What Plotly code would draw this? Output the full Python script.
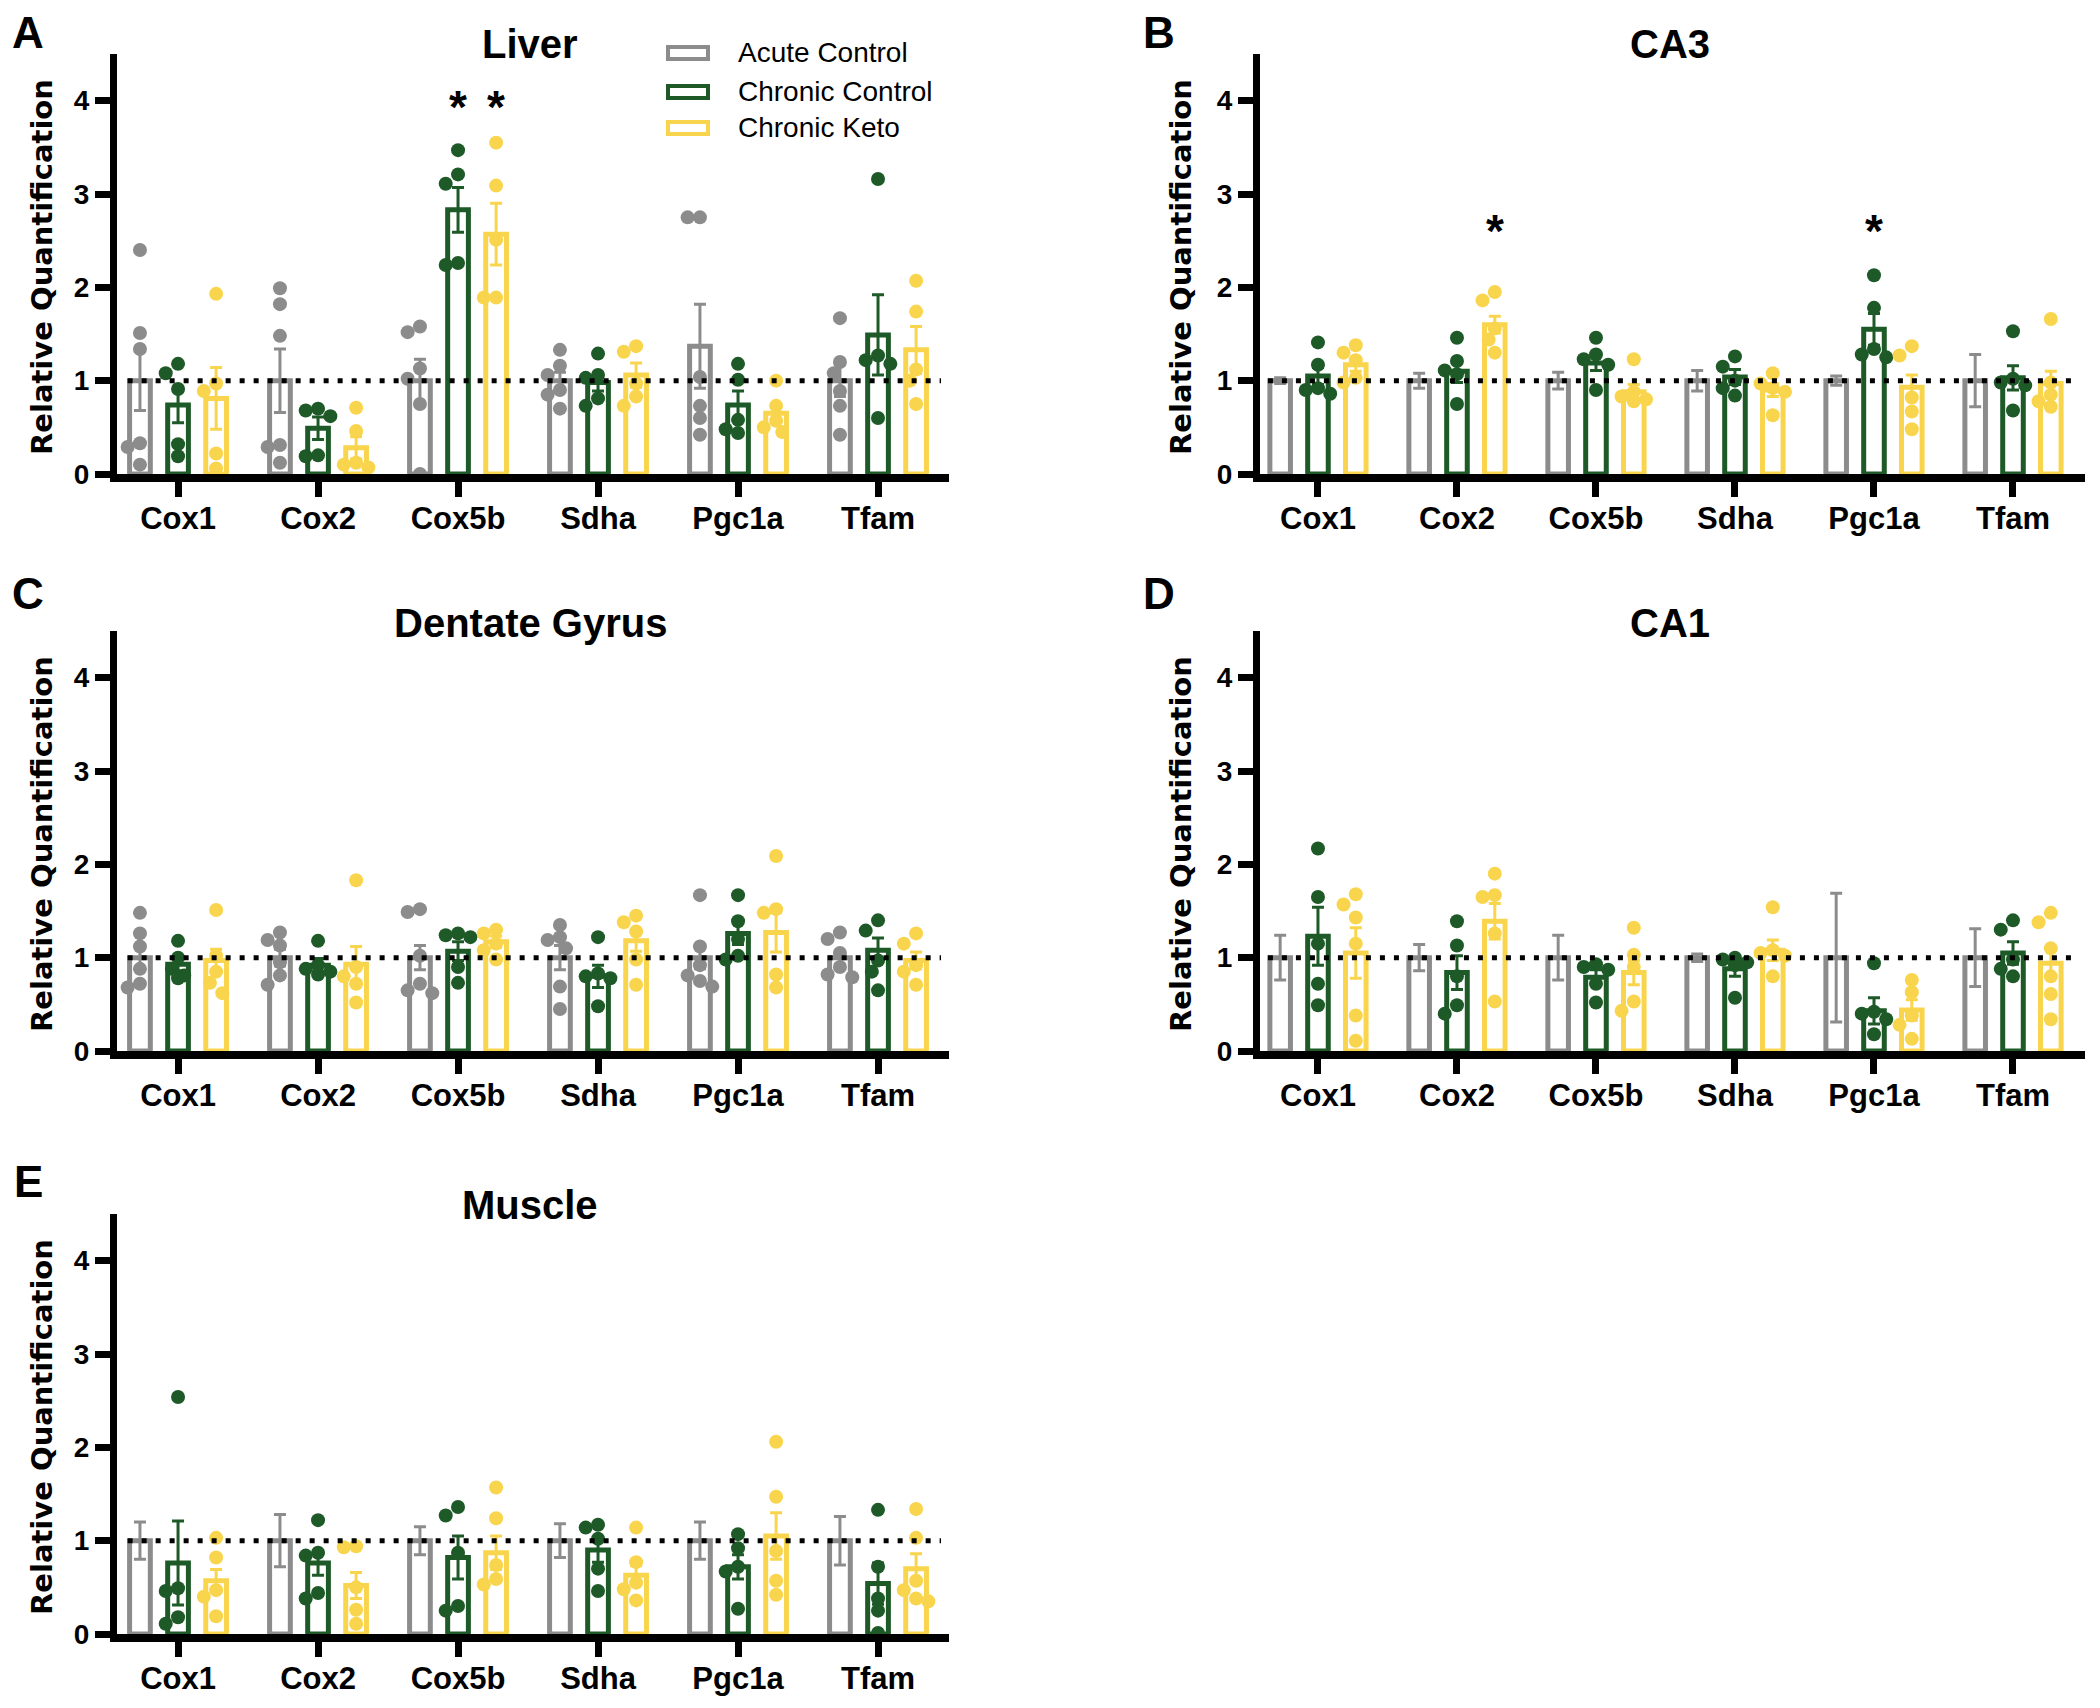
import plotly.graph_objects as go

W, H = 2100, 1708

genes = ["Cox1", "Cox2", "Cox5b", "Sdha", "Pgc1a", "Tfam"]
groups = ["Acute Control", "Chronic Control", "Chronic Keto"]
colors = ["#8c8c8c", "#1e5a28", "#f9d54e"]

# ---------------- A: Liver ----------------
liver_acute_mean = [1.00, 1.00, 1.00, 1.00, 1.37, 1.00]
liver_acute_sem = [0.32, 0.34, 0.23, 0.09, 0.45, 0.17]
liver_acute_pts = [[2.40, 1.51, 1.34, 0.33, 0.29, 0.10], [1.99, 1.82, 1.48, 0.31, 0.29, 0.12],
                   [1.58, 1.52, 1.13, 1.02, 0.75, 0.00], [1.33, 1.16, 1.06, 0.90, 0.85, 0.70],
                   [2.75, 2.75, 1.04, 0.73, 0.60, 0.42], [1.67, 1.20, 1.08, 0.89, 0.73, 0.42]]
liver_chronic_mean = [0.74, 0.49, 2.83, 0.98, 0.74, 1.49]
liver_chronic_sem = [0.19, 0.12, 0.24, 0.09, 0.15, 0.43]
liver_chronic_pts = [[1.18, 1.08, 0.91, 0.32, 0.19], [0.70, 0.68, 0.62, 0.20, 0.19],
                     [3.47, 3.21, 3.11, 2.26, 2.24], [1.29, 1.06, 1.03, 0.81, 0.73],
                     [1.18, 1.01, 0.58, 0.48, 0.44], [3.16, 1.27, 1.22, 1.18, 0.60]]
liver_keto_mean = [0.81, 0.28, 2.57, 1.06, 0.65, 1.33]
liver_keto_sem = [0.33, 0.12, 0.33, 0.13, 0.10, 0.25]
liver_keto_pts = [[1.93, 0.97, 0.89, 0.22, 0.06], [0.71, 0.46, 0.12, 0.10, 0.07],
                  [3.55, 3.09, 2.51, 1.89, 1.89], [1.37, 1.31, 0.97, 0.83, 0.73],
                  [1.00, 0.73, 0.57, 0.50, 0.45], [2.07, 1.74, 1.12, 1.00, 0.75]]
liver_stars = [(2, 1, 4.03), (2, 2, 4.03)]  # (gene index, group index, height)

# ---------------- B: CA3 ----------------
ca3_acute_mean = [1.00, 1.00, 1.00, 1.00, 1.00, 1.00]
ca3_acute_sem = [0.03, 0.08, 0.09, 0.11, 0.05, 0.28]
ca3_acute_pts = [[], [], [], [], [], []]
ca3_chronic_mean = [1.05, 1.10, 1.19, 1.04, 1.55, 1.03]
ca3_chronic_sem = [0.09, 0.12, 0.08, 0.08, 0.17, 0.13]
ca3_chronic_pts = [[1.41, 1.17, 0.92, 0.90, 0.86], [1.46, 1.21, 1.11, 1.07, 0.75],
                   [1.46, 1.28, 1.23, 1.17, 0.90], [1.26, 1.15, 1.00, 0.92, 0.84],
                   [2.13, 1.78, 1.34, 1.28, 1.25], [1.53, 1.02, 0.98, 0.95, 0.68]]
ca3_keto_mean = [1.17, 1.60, 0.88, 0.90, 0.93, 0.97]
ca3_keto_sem = [0.07, 0.09, 0.08, 0.07, 0.13, 0.13]
ca3_keto_pts = [[1.38, 1.30, 1.22, 1.03, 0.98], [1.95, 1.86, 1.56, 1.44, 1.30],
                [1.23, 0.88, 0.83, 0.80, 0.78], [1.08, 0.97, 0.92, 0.88, 0.63],
                [1.37, 1.27, 0.82, 0.67, 0.48], [1.66, 0.98, 0.85, 0.78, 0.72]]
ca3_stars = [(1, 2, 2.70), (4, 1, 2.70)]

# ---------------- C: Dentate Gyrus ----------------
dg_acute_mean = [1.00, 1.00, 1.00, 1.00, 1.00, 1.00]
dg_acute_sem = [0.13, 0.09, 0.13, 0.13, 0.12, 0.07]
dg_acute_pts = [[1.48, 1.26, 1.12, 0.88, 0.72, 0.68], [1.27, 1.19, 1.13, 0.95, 0.81, 0.71],
                [1.52, 1.49, 1.02, 0.72, 0.65, 0.62], [1.35, 1.22, 1.19, 1.10, 0.69, 0.45],
                [1.67, 1.12, 0.92, 0.81, 0.75, 0.69], [1.27, 1.20, 1.05, 0.90, 0.82, 0.79]]
dg_chronic_mean = [0.93, 0.92, 1.07, 0.80, 1.26, 1.08]
dg_chronic_sem = [0.07, 0.07, 0.10, 0.12, 0.12, 0.13]
dg_chronic_pts = [[1.18, 1.00, 0.88, 0.81, 0.78], [1.18, 0.92, 0.88, 0.85, 0.82],
                  [1.26, 1.24, 1.22, 0.90, 0.73], [1.22, 0.83, 0.80, 0.78, 0.48],
                  [1.67, 1.39, 1.20, 1.02, 0.98], [1.40, 1.29, 0.97, 0.85, 0.65]]
dg_keto_mean = [0.97, 0.93, 1.17, 1.18, 1.27, 0.97]
dg_keto_sem = [0.12, 0.19, 0.06, 0.11, 0.21, 0.09]
dg_keto_pts = [[1.51, 1.02, 0.85, 0.73, 0.62], [1.83, 0.90, 0.80, 0.72, 0.52],
               [1.30, 1.26, 1.15, 1.08, 0.98], [1.45, 1.38, 1.28, 0.98, 0.71],
               [2.09, 1.52, 1.48, 0.82, 0.68], [1.26, 1.15, 0.92, 0.85, 0.71]]
dg_stars = []

# ---------------- D: CA1 ----------------
ca1_acute_mean = [1.00, 1.00, 1.00, 1.00, 1.00, 1.00]
ca1_acute_sem = [0.24, 0.14, 0.24, 0.04, 0.69, 0.31]
ca1_acute_pts = [[], [], [], [], [], []]
ca1_chronic_mean = [1.23, 0.84, 0.79, 0.88, 0.43, 1.05]
ca1_chronic_sem = [0.31, 0.18, 0.08, 0.08, 0.14, 0.12]
ca1_chronic_pts = [[2.17, 1.65, 1.15, 0.72, 0.49], [1.39, 1.13, 0.80, 0.49, 0.40],
                   [0.93, 0.90, 0.87, 0.72, 0.52], [1.00, 0.98, 0.95, 0.92, 0.57],
                   [0.94, 0.42, 0.40, 0.34, 0.18], [1.40, 1.30, 0.98, 0.88, 0.80]]
ca1_keto_mean = [1.05, 1.39, 0.84, 1.08, 0.44, 0.94]
ca1_keto_sem = [0.27, 0.19, 0.13, 0.11, 0.11, 0.16]
ca1_keto_pts = [[1.68, 1.57, 1.43, 1.15, 0.38, 0.11], [1.90, 1.67, 1.65, 1.26, 0.53],
                [1.32, 1.03, 0.90, 0.53, 0.43], [1.54, 1.08, 1.05, 1.02, 0.80],
                [0.76, 0.63, 0.38, 0.28, 0.13], [1.48, 1.38, 1.10, 0.80, 0.61, 0.34]]
ca1_stars = []

# ---------------- E: Muscle ----------------
mus_acute_mean = [1.00, 1.00, 1.00, 1.00, 1.00, 1.00]
mus_acute_sem = [0.20, 0.28, 0.15, 0.18, 0.20, 0.26]
mus_acute_pts = [[], [], [], [], [], []]
mus_chronic_mean = [0.76, 0.76, 0.82, 0.90, 0.72, 0.54]
mus_chronic_sem = [0.45, 0.13, 0.23, 0.13, 0.13, 0.22]
mus_chronic_pts = [[2.54, 0.49, 0.46, 0.18, 0.11], [1.22, 0.87, 0.84, 0.44, 0.38],
                   [1.36, 1.27, 0.87, 0.30, 0.25], [1.17, 1.14, 1.02, 0.70, 0.46],
                   [1.07, 0.92, 0.72, 0.67, 0.27], [1.33, 0.72, 0.38, 0.25, 0.01]]
mus_keto_mean = [0.57, 0.52, 0.87, 0.63, 1.05, 0.70]
mus_keto_sem = [0.12, 0.14, 0.18, 0.10, 0.25, 0.16]
mus_keto_pts = [[1.03, 0.82, 0.47, 0.40, 0.19], [0.94, 0.93, 0.50, 0.26, 0.11],
                [1.57, 1.24, 0.74, 0.59, 0.53], [1.14, 0.77, 0.55, 0.48, 0.36],
                [2.06, 1.47, 0.89, 0.57, 0.42], [1.34, 1.03, 0.57, 0.47, 0.38, 0.35]]
mus_stars = []

# ---------------- layout helpers ----------------
SANS = "Liberation Sans, Arial, sans-serif"
WIDE = "DejaVu Sans, Verdana, sans-serif"
OFFSETS = [-0.272, 0.0, 0.272]
BAR_W = 0.148
PX_PER_X = 140.0
PX_PER_Y = 93.0


def pxx(p):
    return p / W


def pxy(p):
    return 1 - p / H


# column: (left px, right px, x-range, letter x, y-title x)
cols = [(117, 949, [-0.436, 5.507], 28, 42), (1260, 2085, [-0.417, 5.518], 1159, 1181)]
# row: (top px, bottom px, title y, letter y)
rows = [(54, 474, 44, 32), (631, 1051, 623, 593), (1214, 1634, 1205, 1181)]

panels = [
    dict(title="Liver", letter="A", col=0, row=0,
         data=[(liver_acute_mean, liver_acute_sem, liver_acute_pts),
               (liver_chronic_mean, liver_chronic_sem, liver_chronic_pts),
               (liver_keto_mean, liver_keto_sem, liver_keto_pts)], stars=liver_stars),
    dict(title="CA3", letter="B", col=1, row=0,
         data=[(ca3_acute_mean, ca3_acute_sem, ca3_acute_pts),
               (ca3_chronic_mean, ca3_chronic_sem, ca3_chronic_pts),
               (ca3_keto_mean, ca3_keto_sem, ca3_keto_pts)], stars=ca3_stars),
    dict(title="Dentate Gyrus", letter="C", col=0, row=1,
         data=[(dg_acute_mean, dg_acute_sem, dg_acute_pts),
               (dg_chronic_mean, dg_chronic_sem, dg_chronic_pts),
               (dg_keto_mean, dg_keto_sem, dg_keto_pts)], stars=dg_stars),
    dict(title="CA1", letter="D", col=1, row=1,
         data=[(ca1_acute_mean, ca1_acute_sem, ca1_acute_pts),
               (ca1_chronic_mean, ca1_chronic_sem, ca1_chronic_pts),
               (ca1_keto_mean, ca1_keto_sem, ca1_keto_pts)], stars=ca1_stars),
    dict(title="Muscle", letter="E", col=0, row=2,
         data=[(mus_acute_mean, mus_acute_sem, mus_acute_pts),
               (mus_chronic_mean, mus_chronic_sem, mus_chronic_pts),
               (mus_keto_mean, mus_keto_sem, mus_keto_pts)], stars=mus_stars),
]


def swarm(vals, step=0.044, diam=12.0):
    """Horizontal spread so overlapping dots sit side by side (layout only)."""
    offs = [0.0] * len(vals)
    placed = []
    for i in sorted(range(len(vals)), key=lambda j: -vals[j]):
        chosen = None
        for k in (0, -1, 1, -2, 2):
            dx = k * step
            if all(((dx - a) * PX_PER_X) ** 2 + ((vals[i] - b) * PX_PER_Y) ** 2 >= diam ** 2
                   for a, b in placed):
                chosen = dx
                break
        if chosen is None:
            chosen = 0.0
        placed.append((chosen, vals[i]))
        offs[i] = chosen
    return offs


fig = go.Figure()
layout = dict(
    width=W, height=H, margin=dict(l=0, r=0, t=0, b=0, autoexpand=False),
    paper_bgcolor="white", plot_bgcolor="rgba(0,0,0,0)",
    barmode="overlay", showlegend=False,
    font=dict(family=SANS, color="black"),
)
annotations = []
shapes = []

for k, p in enumerate(panels, start=1):
    xa = "x" if k == 1 else f"x{k}"
    ya = "y" if k == 1 else f"y{k}"
    left, right, xr, letter_x, ytitle_x = cols[p["col"]]
    top, bottom, title_y, letter_y = rows[p["row"]]

    layout["xaxis" if k == 1 else f"xaxis{k}"] = dict(
        domain=[pxx(left), pxx(right)], anchor=ya, range=xr, automargin=False,
        tickmode="array", tickvals=list(range(len(genes))), ticktext=genes,
        showline=True, linecolor="black", linewidth=8,
        ticks="outside", ticklen=15, tickwidth=7, tickcolor="black",
        ticklabelstandoff=-5,
        tickfont=dict(family=SANS, size=31, weight="bold", color="black"),
        showgrid=False, zeroline=False, fixedrange=True,
    )
    layout["yaxis" if k == 1 else f"yaxis{k}"] = dict(
        domain=[pxy(bottom), pxy(top)], anchor=xa, range=[0, 4.5], automargin=False,
        tickmode="array", tickvals=[0, 1, 2, 3, 4],
        showline=True, linecolor="black", linewidth=7,
        ticks="outside", ticklen=15, tickwidth=7, tickcolor="black",
        tickfont=dict(family=SANS, size=28, weight="bold", color="black"),
        showgrid=False, zeroline=False, fixedrange=True,
    )

    # bars with SEM error bars
    for g, (mean, sem, pts) in enumerate(p["data"]):
        fig.add_trace(go.Bar(
            x=[i + OFFSETS[g] for i in range(len(genes))], y=mean, width=BAR_W,
            marker=dict(color="white", line=dict(color=colors[g], width=5)),
            error_y=dict(type="data", array=sem, symmetric=True, color=colors[g],
                         thickness=3, width=6),
            xaxis=xa, yaxis=ya, name=groups[g], hoverinfo="skip",
        ))
    # individual points
    for g, (mean, sem, pts) in enumerate(p["data"]):
        xs, ys = [], []
        for i, vals in enumerate(pts):
            offs = swarm(vals)
            for v, o in zip(vals, offs):
                xs.append(i + OFFSETS[g] + o)
                ys.append(v)
        if xs:
            fig.add_trace(go.Scatter(
                x=xs, y=ys, mode="markers",
                marker=dict(color=colors[g], size=14, line=dict(width=0)),
                xaxis=xa, yaxis=ya, cliponaxis=False, hoverinfo="skip",
            ))

    # dotted reference line at 1
    shapes.append(dict(
        type="line", xref=xa, yref=ya, x0=-0.36, x1=5.45, y0=1, y1=1,
        line=dict(color="black", width=5, dash="5px,9px"), layer="above",
    ))

    # significance stars
    for gi, grp, hgt in p["stars"]:
        annotations.append(dict(
            xref=xa, yref=ya, x=gi + OFFSETS[grp], y=hgt, text="*", showarrow=False,
            font=dict(family=SANS, size=46, weight="bold", color="black"),
            xanchor="center", yanchor="middle", yshift=-9,
        ))

    # panel title
    cx = (left + right) / 2 - 3
    annotations.append(dict(
        xref="paper", yref="paper", x=pxx(cx), y=pxy(title_y), text=p["title"],
        showarrow=False, xanchor="center", yanchor="middle",
        font=dict(family=SANS, size=40, weight="bold", color="black"),
    ))
    # panel letter
    annotations.append(dict(
        xref="paper", yref="paper", x=pxx(letter_x), y=pxy(letter_y), text=p["letter"],
        showarrow=False, xanchor="center", yanchor="middle",
        font=dict(family=SANS, size=44, weight="bold", color="black"),
    ))
    # y-axis title
    annotations.append(dict(
        xref="paper", yref="paper", x=pxx(ytitle_x), y=pxy((top + bottom) / 2 + 3),
        text="Relative Quantification", textangle=-90, showarrow=False,
        xanchor="center", yanchor="middle",
        font=dict(family=WIDE, size=29, weight="bold", color="black"),
    ))

# legend (panel A)
leg_rows = [53, 92, 128]
for g, cy in enumerate(leg_rows):
    shapes.append(dict(
        type="rect", xref="paper", yref="paper",
        x0=pxx(668), x1=pxx(708), y0=pxy(cy + 6), y1=pxy(cy - 6),
        line=dict(color=colors[g], width=4), fillcolor="white",
    ))
    annotations.append(dict(
        xref="paper", yref="paper", x=pxx(736), y=pxy(cy), text=groups[g],
        showarrow=False, xanchor="left", yanchor="middle",
        font=dict(family=SANS, size=28, color="black"),
    ))

layout["annotations"] = annotations
layout["shapes"] = shapes
fig.update_layout(**layout)
fig.write_html("out.html")
